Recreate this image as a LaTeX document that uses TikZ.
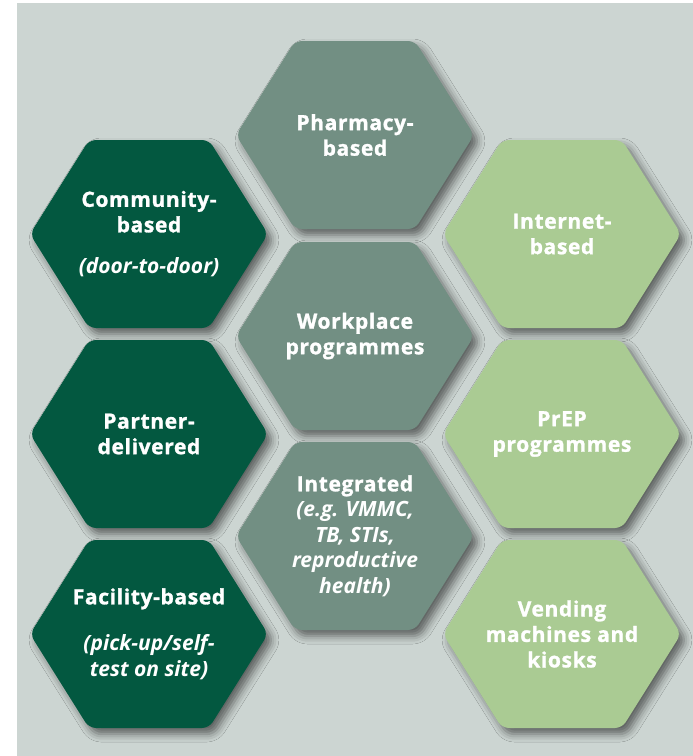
\documentclass[tikz,border=0pt]{standalone}
\usepackage{fontspec}
\setmainfont{Open Sans}[BoldFeatures={FakeBold=1.3,LetterSpace=3}]
\usetikzlibrary{shadows.blur}
\definecolor{bgc}{HTML}{CCD5D2}
\definecolor{darkg}{HTML}{035840}
\definecolor{midg}{HTML}{728F83}
\definecolor{lightg}{HTML}{AACB93}
\tikzset{
  hexshape/.style={rounded corners=7pt,
    blur shadow={shadow xshift=5pt, shadow yshift=-6pt, shadow blur radius=8pt, shadow opacity=55}},
  hexlabel/.style={text=white, font=\fontsize{21}{25.5}\selectfont\bfseries, align=center, inner sep=0pt}
}
\newcommand\hexcell[5]{%
  \path[hexshape, fill=#4] (#2,#3-94) -- (#2+60,#3-94) -- (#2+119,#3) -- (#2+60,#3+94)
    -- (#2-60,#3+94) -- (#2-119,#3) -- (#2-60,#3-94) -- cycle;
  \node[hexlabel] (#1) at (#2,#3) {#5};
}
\begin{document}
\begin{tikzpicture}[x=1pt,y=-1pt]
\useasboundingbox (0,0) rectangle (693,756);
\fill[white] (0,0) rectangle (693,756);
\fill[bgc] (17,3) rectangle (693,756);
% left column
\hexcell{community}{149}{234}{darkg}{Community-\\based\\[16pt]\textit{(door-to-door)}}
\hexcell{partner}{149}{434}{darkg}{Partner-\\delivered}
\hexcell{facility}{149}{634}{darkg}{Facility-based\\[21pt]\textit{(pick-up/self-}\\\textit{test on site)}}
% middle column
\hexcell{pharmacy}{355}{135}{midg}{Pharmacy-\\based}
\hexcell{workplace}{355}{336}{midg}{Workplace\\programmes}
\hexcell{integrated}{355}{536}{midg}{Integrated\\\textit{(e.g. VMMC,}\\\textit{TB, STIs,}\\\textit{reproductive}\\\textit{health)}}
% right column
\hexcell{internet}{562}{234}{lightg}{Internet-\\based}
\hexcell{prep}{562}{434}{lightg}{PrEP\\programmes}
\hexcell{vending}{562}{634}{lightg}{Vending\\machines and\\kiosks}
\end{tikzpicture}
\end{document}
